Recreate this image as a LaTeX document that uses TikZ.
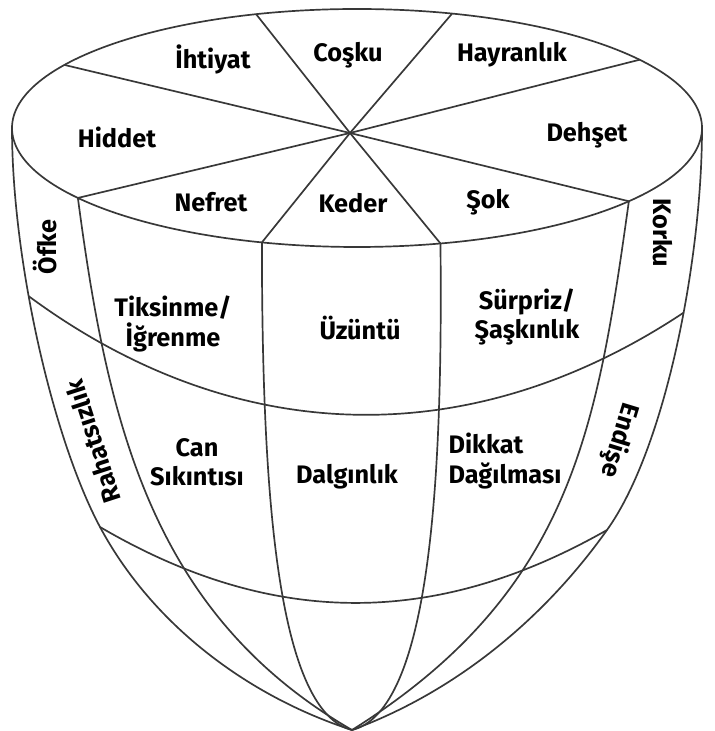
\documentclass[tikz,border=0pt]{standalone}
\usepackage{fontspec}
\setmainfont{Fira Sans}
\usetikzlibrary{positioning}

\begin{document}
\begin{tikzpicture}[
  x=0.25mm, y=0.25mm,
  font=\fontsize{18}{21}\selectfont\bfseries,
  rimline/.style={draw=black!78, line width=1.2pt},
  meridian/.style={draw=black!78, line width=1.2pt},
  latline/.style={draw=black!78, line width=1.2pt},
  emo/.style={inner sep=1pt, align=center}
]
  \useasboundingbox (0,0) rectangle (715,731);
  % top of the cone
  \coordinate (rim) at (357,603);
  \coordinate (hub) at (350,598);
  \coordinate (tip) at (352,1);
  \path (rim) ++(74:345 and 119) coordinate (r1);
  \path (rim) ++(35:345 and 119) coordinate (r2);
  \path (rim) ++(-38:345 and 119) coordinate (r3);
  \path (rim) ++(-76:345 and 119) coordinate (r4);
  \path (rim) ++(-106:345 and 119) coordinate (r5);
  \path (rim) ++(-144:345 and 119) coordinate (r6);
  \path (rim) ++(148:345 and 119) coordinate (r7);
  \path (rim) ++(107:345 and 119) coordinate (r8);
  \path (rim) ++(180:345 and 119) coordinate (rl);
  \path (rim) ++(0:345 and 119) coordinate (rr);
  \draw[rimline] (rim) ellipse [x radius=345, y radius=119];
  \foreach \k in {1,...,8}
    \draw[rimline] (hub) -- (r\k);

  % meridians down to the tip
  \coordinate (l1) at (100,204);
  \coordinate (l2) at (607,201);
  \draw[meridian] (rl) .. controls (12,470) and (53,292) .. coordinate[pos=0.39] (m1) (l1)
                       .. controls (152,107) and (247,35) .. (tip);
  \draw[meridian] (r6) .. controls (108,305) and (153,116) .. (tip);
  \draw[meridian] (r5) .. controls (262,250) and (275,20) .. (tip);
  \draw[meridian] (r4) .. controls (443,250) and (430,20) .. (tip);
  \draw[meridian] (r3) .. controls (597,302) and (572,139) .. (tip);
  \draw[meridian] (rr) .. controls (702,470) and (665,282) .. coordinate[pos=0.42] (m2) (l2)
                       .. controls (543,111) and (455,39) .. (tip);

  % latitude rings
  \draw[latline] (m1) to[bend right=35] (m2);
  \draw[latline] (l1) to[bend right=30] (l2);

  % top labels
  \node[emo] (ihtiyat) at (213,672) {İhtiyat};
  \node[emo] (cosku) at (348,676) {Coşku};
  \node[emo] (hayran) at (512,676) {Hayranlık};
  \node[emo] (hiddet) at (117,594) {Hiddet};
  \node[emo] (dehset) at (587,596) {Dehşet};
  \node[emo] (nefret) at (211,529) {Nefret};
  \node[emo] (keder) at (353,528) {Keder};
  \node[emo] (sok) at (488,529) {Şok};

  % side labels
  \node[emo, rotate=90] (ofke) at (45,484) {Öfke};
  \node[emo, rotate=-90] (korku) at (663,498) {Korku};
  \node[emo] (tiksinme) at (173,407) {Tiksinme/\\İğrenme};
  \node[emo] (uzuntu) at (360,403) {Üzüntü};
  \node[emo] (surpriz) at (527,414) {Sürpriz/\\Şaşkınlık};
  \node[emo, rotate=108] (rahatsiz) at (93,289) {Rahatsızlık};
  \node[emo] (cansik) at (197,269) {Can\\Sıkıntısı};
  \node[emo] (dalgin) at (347,254) {Dalgınlık};
  \node[emo, align=left] (dikkat) at (505,270) {Dikkat\\Dağılması};
  \node[emo, rotate=-107] (endise) at (619,291) {Endişe};
\end{tikzpicture}
\end{document}
